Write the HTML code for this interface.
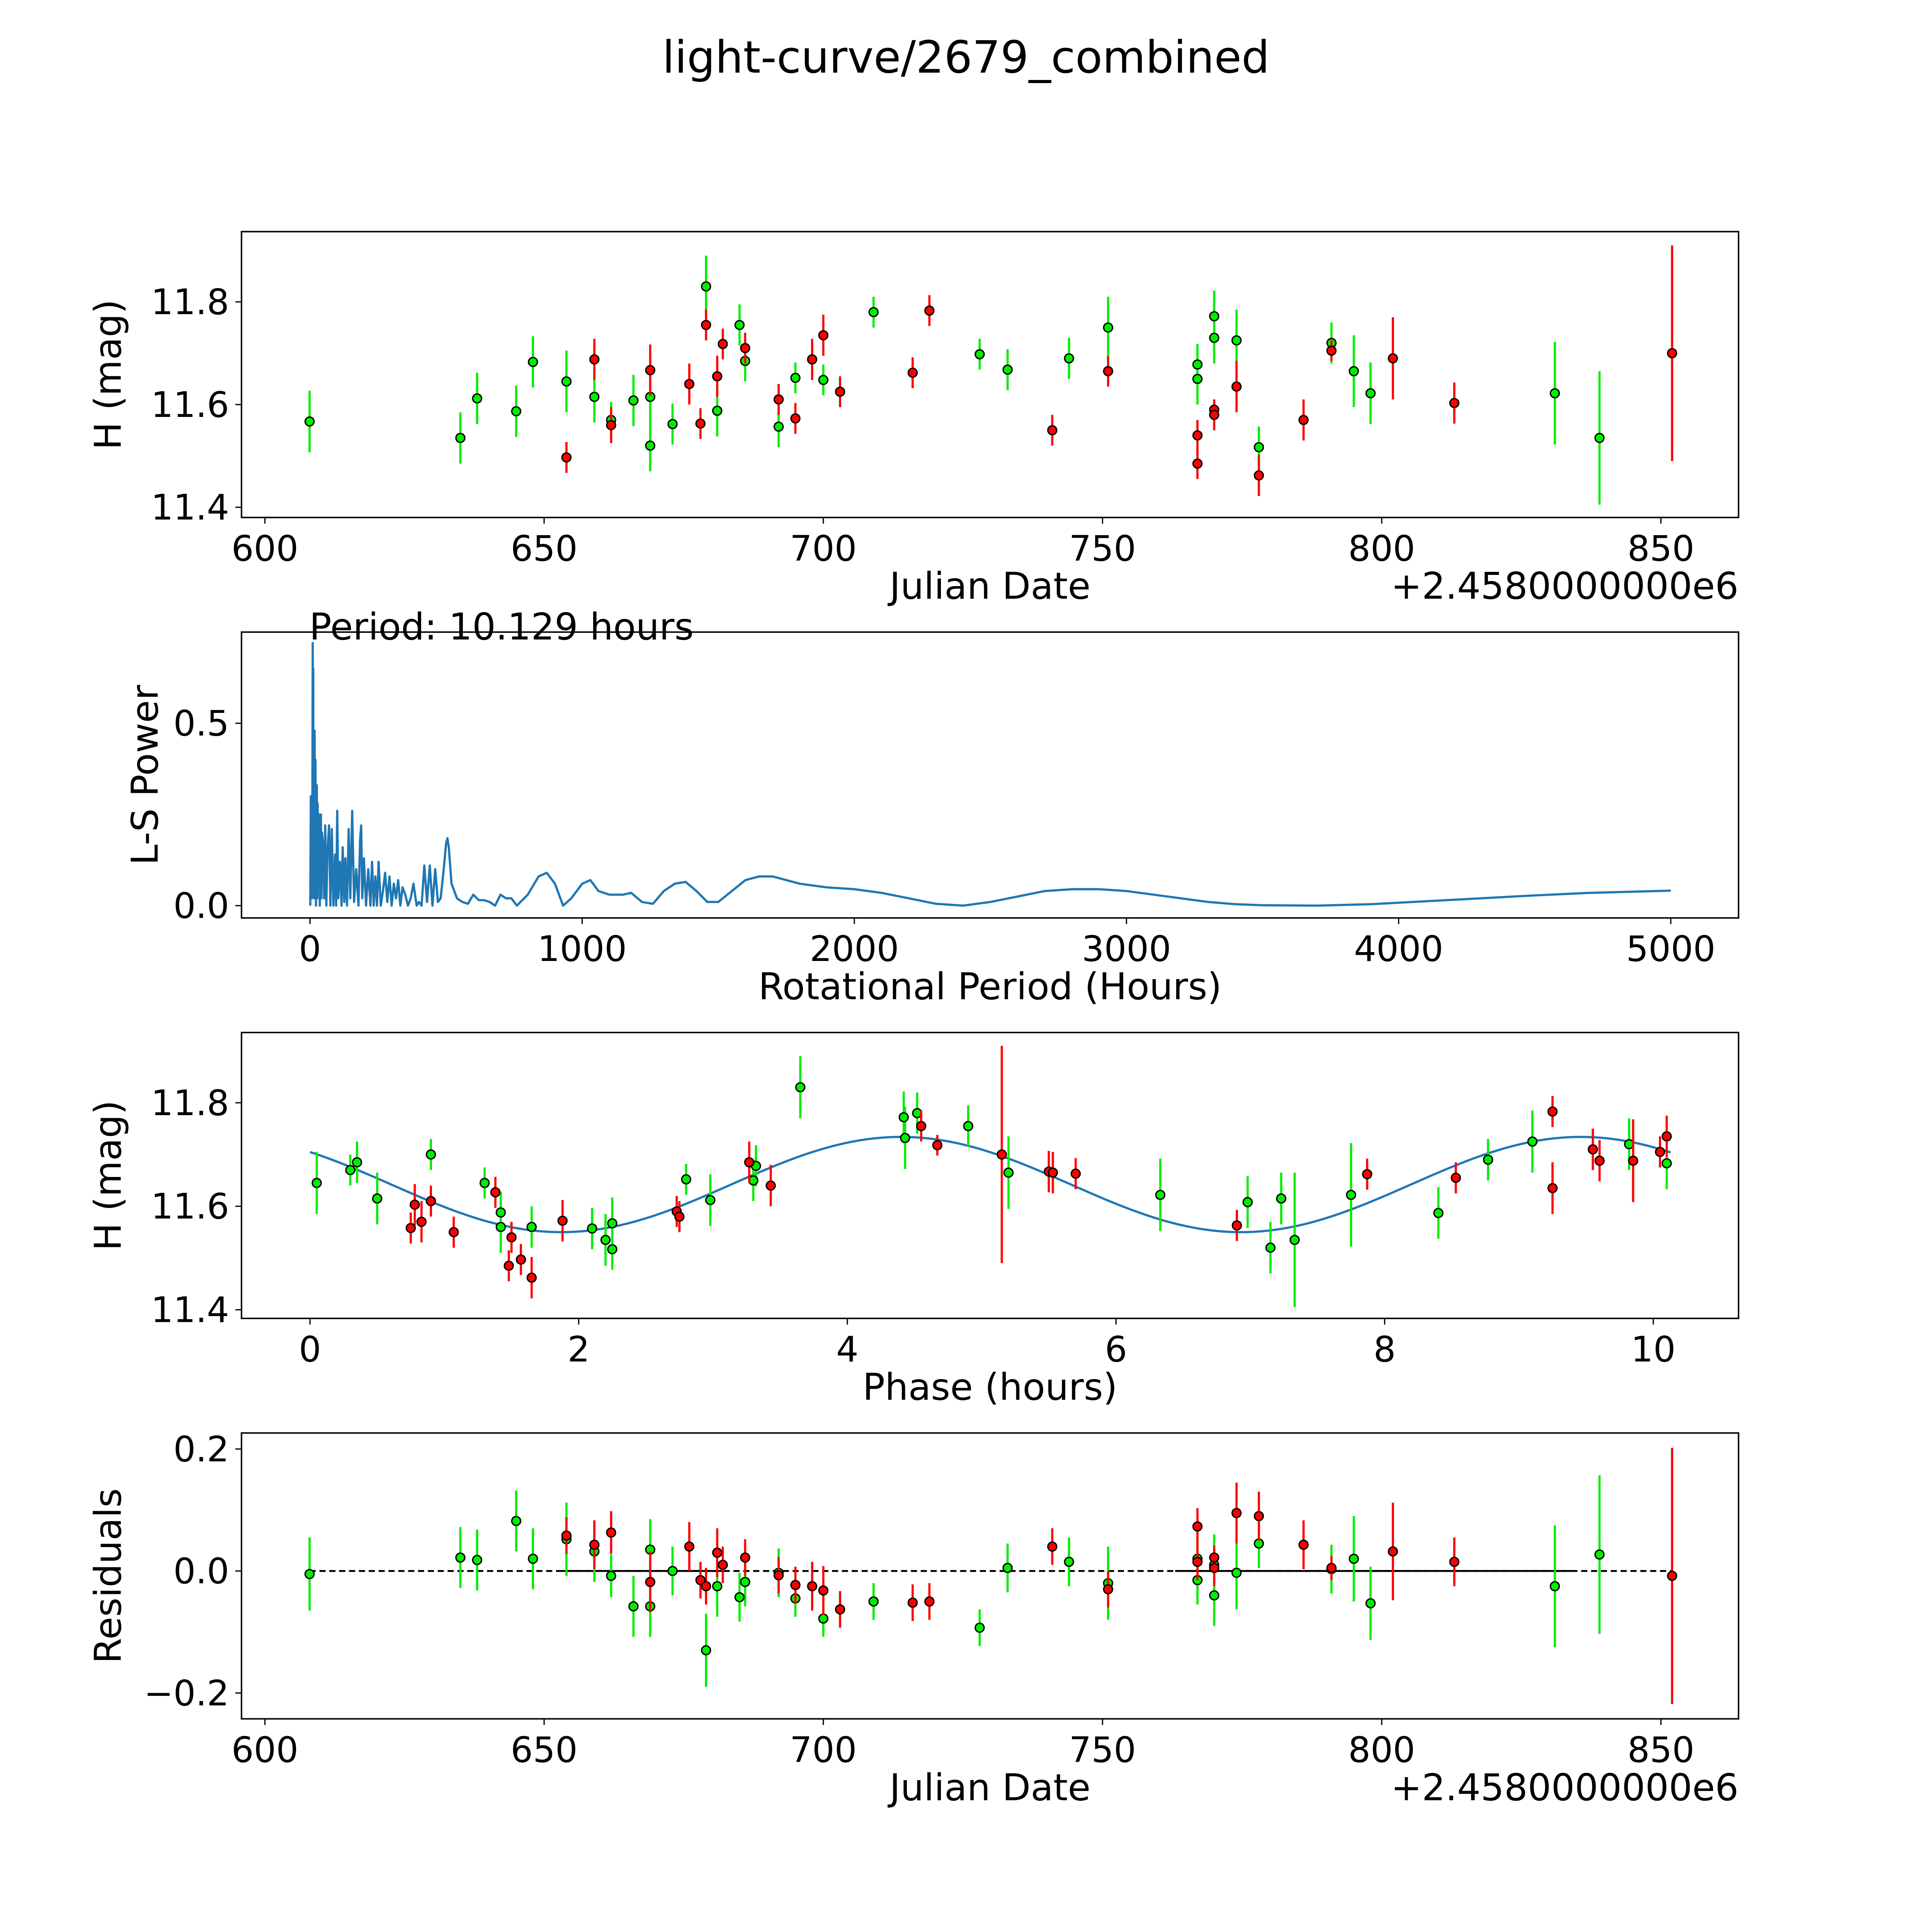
<!DOCTYPE html>
<html><head><meta charset="utf-8"><style>
html,body{margin:0;padding:0;background:#fff;overflow:hidden;width:100vw;height:100vh;}
svg{display:block;width:100vw;height:100vh;}
text{font-family:"DejaVu Sans","Liberation Sans",sans-serif;fill:#000;}
</style></head><body>
<svg id="fig" xmlns="http://www.w3.org/2000/svg" viewBox="0 0 1568 1568" preserveAspectRatio="xMidYMid meet">
<rect width="1568" height="1568" fill="#fff"/>
<text x="784" y="59" font-size="36" text-anchor="middle">light-curve/2679_combined</text>
<g id="plots"></g>
</svg>
<script>
// ---- data ----
const greenJD=[608,635,638,645,648,654,659,662,666,669,669,673,679,681,685,686,692,695,700,709,728,733,744,751,767,767,770,770,774,778,791,795,798,831,839];
const greenMag=[11.567,11.535,11.612,11.587,11.683,11.645,11.615,11.57,11.608,11.615,11.52,11.562,11.83,11.588,11.755,11.685,11.557,11.652,11.648,11.78,11.698,11.668,11.69,11.75,11.678,11.65,11.772,11.73,11.725,11.517,11.72,11.665,11.622,11.622,11.535];
const greenErr=[0.06,0.05,0.05,0.05,0.05,0.06,0.05,0.035,0.05,0.05,0.05,0.04,0.06,0.05,0.04,0.04,0.04,0.03,0.03,0.03,0.03,0.04,0.04,0.06,0.04,0.05,0.05,0.05,0.06,0.04,0.04,0.07,0.06,0.1,0.13];
const greenRes=[-0.005,0.022,0.018,0.082,0.02,0.052,0.032,-0.008,-0.058,0.035,-0.058,0,-0.13,-0.025,-0.043,-0.018,-0.003,-0.045,-0.078,-0.05,-0.093,0.005,0.015,-0.02,-0.015,0.02,-0.04,0.01,-0.003,0.045,0.003,0.02,-0.053,-0.025,0.027];
const redJD=[654,659,662,669,676,678,679,681,682,686,692,695,698,700,703,716,719,741,751,767,767,770,770,774,778,786,791,802,813,852];
const redMag=[11.497,11.688,11.56,11.667,11.64,11.563,11.755,11.655,11.718,11.71,11.61,11.573,11.688,11.735,11.625,11.662,11.783,11.55,11.665,11.54,11.485,11.59,11.58,11.635,11.462,11.57,11.705,11.69,11.603,11.7];
const redErr=[0.03,0.04,0.035,0.05,0.04,0.03,0.03,0.04,0.03,0.03,0.03,0.03,0.04,0.04,0.03,0.03,0.03,0.03,0.03,0.03,0.03,0.02,0.03,0.05,0.04,0.04,0.02,0.08,0.04,0.21];
const redRes=[0.058,0.043,0.063,-0.018,0.04,-0.015,-0.025,0.03,0.01,0.022,-0.007,-0.023,-0.025,-0.032,-0.063,-0.052,-0.05,0.04,-0.03,0.073,0.015,0.022,0.005,0.095,0.09,0.043,0.005,0.032,0.015,-0.008];
const greenPhase=[0.05,0.3,0.35,0.5,0.9,1.3,1.42,1.42,1.65,2.1,2.2,2.25,2.25,2.8,2.98,3.3,3.32,3.65,4.42,4.43,4.52,4.9,5.2,6.33,6.98,7.15,7.23,7.33,7.75,8.4,8.77,9.1,9.82,10.1];
const greenPhaseMag=[11.645,11.67,11.685,11.615,11.7,11.645,11.588,11.56,11.56,11.557,11.535,11.567,11.517,11.652,11.612,11.65,11.678,11.83,11.772,11.732,11.78,11.755,11.665,11.622,11.608,11.52,11.615,11.535,11.622,11.587,11.69,11.725,11.72,11.683];
const greenPhaseErr=[0.06,0.03,0.04,0.05,0.03,0.03,0.04,0.05,0.04,0.04,0.05,0.05,0.04,0.03,0.05,0.04,0.04,0.06,0.05,0.06,0.04,0.04,0.07,0.07,0.05,0.05,0.05,0.13,0.1,0.05,0.04,0.06,0.05,0.05];
const redPhase=[0.75,0.78,0.83,0.9,1.07,1.38,1.48,1.5,1.57,1.65,1.88,2.73,2.75,3.27,3.43,4.55,4.67,5.15,5.5,5.53,5.7,6.9,7.87,8.53,9.25,9.25,9.55,9.6,9.85,10.05,10.1];
const redPhaseMag=[11.558,11.603,11.57,11.61,11.55,11.627,11.485,11.54,11.497,11.462,11.572,11.59,11.58,11.685,11.64,11.755,11.718,11.7,11.667,11.665,11.663,11.563,11.662,11.655,11.783,11.635,11.71,11.688,11.688,11.705,11.735];
const redPhaseErr=[0.03,0.04,0.04,0.03,0.03,0.03,0.03,0.03,0.03,0.04,0.04,0.03,0.03,0.04,0.04,0.03,0.02,0.21,0.04,0.04,0.03,0.03,0.03,0.03,0.03,0.05,0.04,0.04,0.08,0.03,0.04];
const lsPeriod=[1,3,5,7,8,10,11,12,13,14,16,17,18,20,22,24,25,27,28,30,33,36,38,40,42,44,48,52,56,60,64,70,75,80,86,92,96,100,104,110,116,120,126,130,136,142,148,155,162,170,178,184,188,192,198,206,214,222,228,234,240,246,252,260,268,276,284,292,300,308,316,324,332,340,350,360,370,380,392,400,410,420,430,440,450,460,470,480,490,500,505,510,520,540,560,580,600,620,640,660,680,700,720,740,760,800,840,870,900,930,960,1000,1030,1060,1100,1150,1180,1220,1260,1300,1340,1380,1420,1460,1500,1550,1600,1650,1700,1750,1800,1900,2000,2100,2200,2300,2400,2500,2600,2700,2800,2900,3000,3100,3200,3300,3400,3500,3700,3900,4100,4300,4500,4700,5000];
const lsPower=[0.0,0.3,0.05,0.28,0.02,0.72,0.1,0.65,0.05,0.4,0.02,0.48,0.05,0.4,0.0,0.3,0.33,0.02,0.28,0.05,0.25,0.0,0.2,0.25,0.02,0.2,0.17,0.02,0.22,0.0,0.15,0.22,0.0,0.21,0.0,0.14,0.0,0.26,0.02,0.12,0.0,0.16,0.01,0.13,0.0,0.21,0.02,0.26,0.01,0.1,0.0,0.18,0.22,0.02,0.13,0.0,0.1,0.0,0.12,0.0,0.08,0.0,0.12,0.0,0.04,0.09,0.01,0.08,0.0,0.06,0.02,0.07,0.0,0.05,0.03,0.0,0.02,0.06,0.0,0.01,0.0,0.11,0.01,0.11,0.0,0.1,0.01,0.02,0.09,0.17,0.185,0.16,0.06,0.02,0.01,0.005,0.03,0.015,0.015,0.01,0.0,0.03,0.02,0.02,0.0,0.03,0.08,0.09,0.06,0.0,0.02,0.06,0.07,0.04,0.03,0.03,0.035,0.01,0.005,0.04,0.06,0.065,0.04,0.01,0.01,0.04,0.07,0.08,0.08,0.07,0.06,0.05,0.045,0.035,0.02,0.005,0.0,0.01,0.025,0.04,0.045,0.045,0.04,0.03,0.02,0.01,0.004,0.001,0.0,0.004,0.012,0.02,0.028,0.035,0.041,0.048];
const fitMean=11.642, fitAmp=0.092, fitPeak=4.4, fitHalfPeriod=5.06, fitPeriod=10.129;
const solidSegs=[[653,682],[763,834]];

// ---- helpers ----
const NS="http://www.w3.org/2000/svg";
const root=document.getElementById('plots');
function mk(tag,attrs,parent){const e=document.createElementNS(NS,tag);for(const k in attrs)e.setAttribute(k,attrs[k]);(parent||root).appendChild(e);return e;}
function lin(d0,d1,r0,r1){return v=>r0+(v-d0)*(r1-r0)/(d1-d0);}
const TICK_FS=28.5, LAB_FS=30;

function axes(name,box,xs,ys,xt,yt,xlab,ylab,ylabX,yfmt){
  const g=mk('g',{});
  
  
  xt.forEach(t=>{const x=xs(t);
    const l=mk('line',{x1:x,x2:x,y1:box.b,y2:box.b+5,stroke:'#000','stroke-width':1},g);
    
    const tx=mk('text',{x:x,y:box.b+35,'font-size':TICK_FS,'text-anchor':'middle'},g);tx.textContent=String(t);
    });
  yt.forEach(t=>{const y=ys(t);
    const l=mk('line',{x1:box.l-5,x2:box.l,y1:y,y2:y,stroke:'#000','stroke-width':1},g);
    
    const tx=mk('text',{x:box.l-10,y:y+10,'font-size':TICK_FS,'text-anchor':'end'},g);tx.textContent=yfmt(t);
    });
  const xl=mk('text',{x:(box.l+box.r)/2,y:box.b+66,'font-size':LAB_FS,'text-anchor':'middle'},g);xl.textContent=xlab;
  
  const yc=(box.t+box.b)/2;
  const yl=mk('text',{x:ylabX,y:yc,'font-size':LAB_FS,'text-anchor':'middle',transform:`rotate(-90 ${ylabX} ${yc})`},g);yl.textContent=ylab;
  
  return g;
}
function frame(box){const r=mk('rect',{x:box.l,y:box.t,width:box.r-box.l,height:box.b-box.t,fill:'none',stroke:'#000','stroke-width':1.2});
  }
function points(xsArr,ysArr,errs,xs,ys,col,name){
  const g=mk('g',{});
  
  xsArr.forEach((v,i)=>{const x=xs(v);
    const e=mk('line',{x1:x,x2:x,y1:ys(ysArr[i]-errs[i]),y2:ys(ysArr[i]+errs[i]),stroke:col,'stroke-width':1.8},g);
    });
  xsArr.forEach((v,i)=>{
    const c=mk('circle',{cx:xs(v),cy:ys(ysArr[i]),r:3.6,fill:col,stroke:'#000','stroke-width':1.1},g);
    });
}
const fmt1=t=>t.toFixed(1), fmtNeg=t=>(t<0?'\u2212':'')+Math.abs(t).toFixed(1);
const GREEN='#00ee00', RED='#ff0000';

// Panel 1
const b1={l:196,r:1411,t:188,b:420};
const xs1=lin(600,850,215,1348), ys1=lin(11.4,11.8,411.7,245);
axes('light-curve-axes',b1,xs1,ys1,[600,650,700,750,800,850],[11.4,11.6,11.8],'Julian Date','H (mag)',98,fmt1);
points(greenJD,greenMag,greenErr,xs1,ys1,GREEN,'green-series');
points(redJD,redMag,redErr,xs1,ys1,RED,'red-series');
frame(b1);
let off=mk('text',{x:1411,y:486,'font-size':LAB_FS,'text-anchor':'end'});off.textContent='+2.4580000000e6';


// Panel 2
const b2={l:196,r:1411,t:513,b:745};
const xs2=lin(0,5000,251.6,1356), ys2=lin(0,0.5,735,587);
axes('periodogram-axes',b2,xs2,ys2,[0,1000,2000,3000,4000,5000],[0.0,0.5],'Rotational Period (Hours)','L-S Power',128,fmt1);
let pd=lsPeriod.map((p,i)=>(i?'L':'M')+xs2(p).toFixed(2)+' '+ys2(lsPower[i]).toFixed(2)).join(' ');
let pl=mk('path',{d:pd,fill:'none',stroke:'#1f77b4','stroke-width':1.8,'stroke-linejoin':'round'});

frame(b2);
let per=mk('text',{x:251,y:519,'font-size':LAB_FS});per.textContent='Period: 10.129 hours';


// Panel 3
const b3={l:196,r:1411,t:838,b:1070};
const xs3=lin(0,10,251.6,1341.8), ys3=lin(11.4,11.8,1063,895);
axes('phase-axes',b3,xs3,ys3,[0,2,4,6,8,10],[11.4,11.6,11.8],'Phase (hours)','H (mag)',98,fmt1);
let fd='';for(let i=0;i<=300;i++){const p=fitPeriod*i/300;const m=fitMean+fitAmp*Math.cos(2*Math.PI*(p-fitPeak)/fitHalfPeriod);fd+=(i?'L':'M')+xs3(p).toFixed(2)+' '+ys3(m).toFixed(2)+' ';}
let fl=mk('path',{d:fd,fill:'none',stroke:'#1f77b4','stroke-width':1.8});

points(greenPhase,greenPhaseMag,greenPhaseErr,xs3,ys3,GREEN,'green-phase-series');
points(redPhase,redPhaseMag,redPhaseErr,xs3,ys3,RED,'red-phase-series');
frame(b3);

// Panel 4
const b4={l:196,r:1411,t:1163,b:1395};
const xs4=xs1, ys4=lin(0,0.2,1275,1176);
axes('residuals-axes',b4,xs4,ys4,[600,650,700,750,800,850],[-0.2,0.0,0.2],'Julian Date','Residuals',98,fmtNeg);
let zl=mk('line',{x1:xs4(608),x2:xs4(852),y1:ys4(0),y2:ys4(0),stroke:'#000','stroke-width':1.5,'stroke-dasharray':'5 3'});

solidSegs.forEach(s=>{const l=mk('line',{x1:xs4(s[0]),x2:xs4(s[1]),y1:ys4(0),y2:ys4(0),stroke:'#000','stroke-width':1.5});
  });
points(greenJD,greenRes,greenErr,xs4,ys4,GREEN,'green-residuals');
points(redJD,redRes,redErr,xs4,ys4,RED,'red-residuals');
frame(b4);
let off2=mk('text',{x:1411,y:1461,'font-size':LAB_FS,'text-anchor':'end'});off2.textContent='+2.4580000000e6';

</script>
</body></html>
